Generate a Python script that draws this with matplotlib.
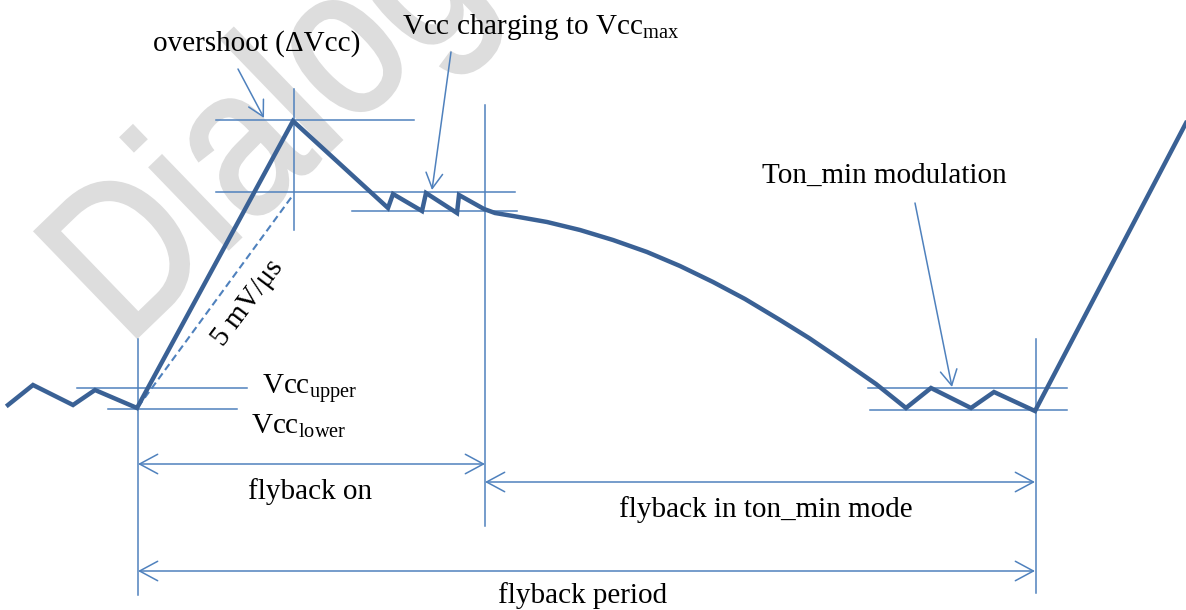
import matplotlib
matplotlib.use("Agg")
import numpy as np
import matplotlib.pyplot as plt
from matplotlib.patches import FancyArrowPatch, PathPatch
from matplotlib.textpath import TextPath
from matplotlib.font_manager import FontProperties
from matplotlib.transforms import Affine2D

plt.rcParams['font.family'] = ['Liberation Serif', 'DejaVu Serif']
plt.rcParams['mathtext.fontset'] = 'custom'
plt.rcParams['mathtext.rm'] = 'Liberation Serif'

# Vcc trace (pixel coords of the drawing, y grows downward)
wave_x = [8, 33, 73, 95, 137, 293, 388, 393, 422, 426, 457, 459, 484,
          495, 513, 547, 580, 613, 647, 680, 713, 745, 780, 809, 840, 876,
          906, 931, 971, 994, 1035, 1186]
wave_y = [405, 385, 405, 390, 408, 121, 208, 194, 211, 193, 213, 195, 209,
          213, 216, 222, 230, 240, 252, 266, 282, 299, 320, 338, 359, 384,
          408, 388, 408, 392, 411, 123]

# guide lines
h_y = [120, 192, 211, 388, 409, 388, 410]
h_x0 = [216, 216, 352, 77, 108, 868, 870]
h_x1 = [414, 515, 517, 247, 237, 1067, 1067]
v_x = [138, 294, 485, 1036]
v_y0 = [339, 89, 105, 339]
v_y1 = [595, 230, 526, 593]

# 5 mV/us slope reference
slope_x = [138, 293]
slope_y = [407, 195]

# dimension arrows
dim_y = [464, 482, 571]
dim_x0 = [138, 485, 138]
dim_x1 = [485, 1035, 1035]
dim_labels = ["flyback on", "flyback in ton_min mode", "flyback period"]

# callouts
call_from = [(238, 69), (451, 52), (915, 203)]
call_to = [(264, 118), (432, 190), (952, 387)]

thick = '#3A6195'
thin = '#4F81BD'
fs = 21

fig = plt.figure(figsize=(11.86, 6.10), dpi=100)
ax = fig.add_axes([0, 0, 1, 1])
ax.set_xlim(0, 1186)
ax.set_ylim(610, 0)
ax.axis('off')

# watermark "Dialog", slanted and a bit condensed
tp = TextPath((0, 0), "Dialog", size=1, prop=FontProperties(family='Liberation Sans'))
th = np.deg2rad(44)
sx, sy = 180, 213
ux, uy = np.cos(th), -np.sin(th)
vx, vy = -np.sin(th), -np.cos(th)
M = np.array([[ux * sx, vx * sy, 126.6],
              [uy * sx, vy * sy, 347.0],
              [0, 0, 1]])
ax.add_patch(PathPatch(tp, transform=Affine2D(M) + ax.transData,
                       fc='#dddddd', ec='#dddddd', lw=2.5, zorder=0))

for y, a, b in zip(h_y, h_x0, h_x1):
    ax.plot([a, b], [y, y], color=thin, lw=1.1, zorder=2)
for x, a, b in zip(v_x, v_y0, v_y1):
    ax.plot([x, x], [a, b], color=thin, lw=1.1, zorder=2)

ax.plot(slope_x, slope_y, color=thin, lw=1.5, ls=(0, (3.5, 2)), zorder=2)
ax.plot(wave_x, wave_y, color=thick, lw=3.2, solid_joinstyle='miter', zorder=3)

for y, a, b in zip(dim_y, dim_x0, dim_x1):
    ax.add_patch(FancyArrowPatch((a, y), (b, y),
                                 arrowstyle='<->,head_length=13,head_width=7',
                                 mutation_scale=1, color=thin, lw=1.1,
                                 shrinkA=0, shrinkB=0, zorder=2))
for p0, p1 in zip(call_from, call_to):
    ax.add_patch(FancyArrowPatch(p0, p1,
                                 arrowstyle='->,head_length=11,head_width=6',
                                 mutation_scale=1, color=thin, lw=1.1,
                                 shrinkA=0, shrinkB=0, zorder=2))

# labels
ax.text(153, 51, "overshoot (\u0394Vcc)", fontsize=fs, ha='left', va='baseline')
ax.text(402, 34, r"Vcc charging to Vcc$_{\mathrm{max}}$", fontsize=fs,
        ha='left', va='baseline')
ax.text(762, 183, "Ton_min modulation", fontsize=fs, ha='left', va='baseline')
ax.text(248, 303, "5 mV/\u03bcs", fontsize=fs, rotation=53,
        rotation_mode='anchor', ha='center', va='center')
ax.text(262, 394, r"Vcc$_{\mathrm{upper}}$", fontsize=fs, ha='left', va='baseline')
ax.text(251, 433, r"Vcc$_{\mathrm{lower}}$", fontsize=fs, ha='left', va='baseline')

ax.text(310, 499, dim_labels[0], fontsize=fs, ha='center', va='baseline')
ax.text(766, 517, dim_labels[1], fontsize=fs, ha='center', va='baseline')
ax.text(583, 603, dim_labels[2], fontsize=fs, ha='center', va='baseline')

fig.savefig("out.png", dpi=100)
